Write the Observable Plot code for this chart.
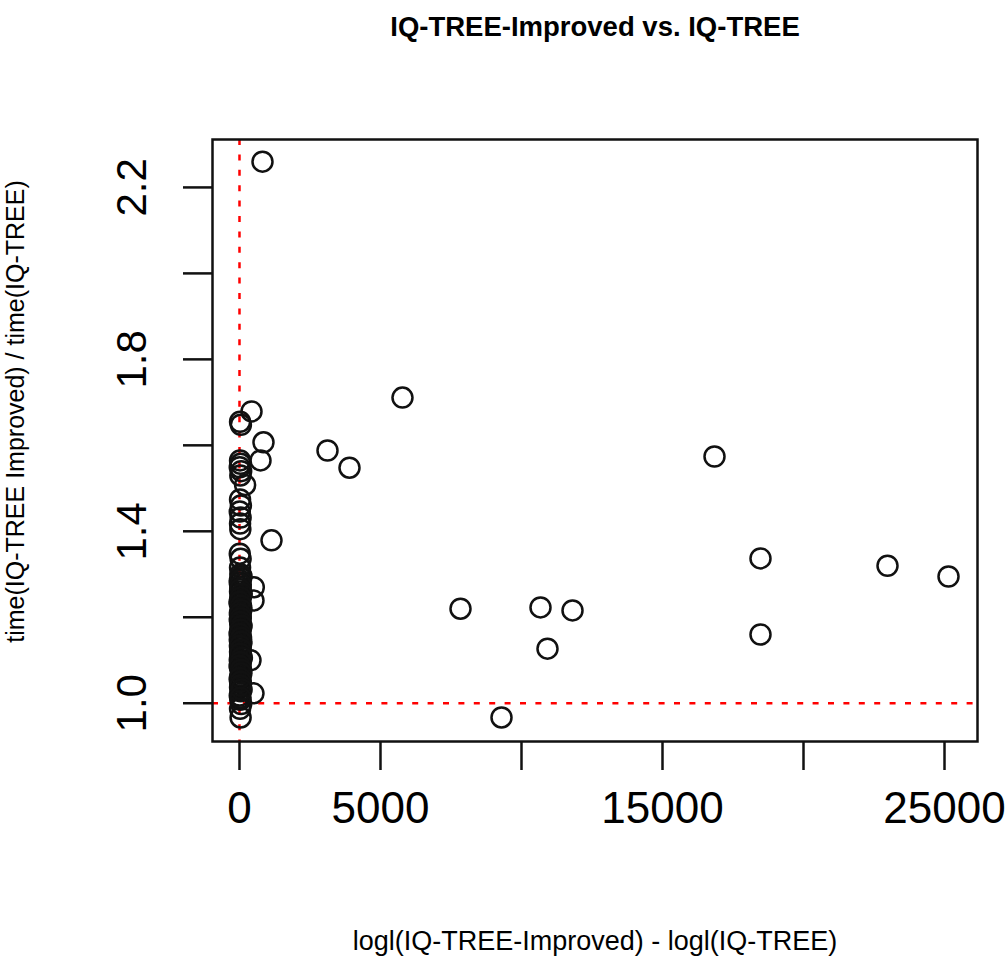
<!DOCTYPE html>
<html><head><meta charset="utf-8">
<script src="https://cdn.jsdelivr.net/npm/d3@7"></script>
<script src="https://cdn.jsdelivr.net/npm/@observablehq/plot@0.6"></script>
<style>body{margin:0;background:#fff} svg{display:block}</style>
</head><body><div id="chart"></div>
<script>
const title = "IQ-TREE-Improved vs. IQ-TREE";
const xLabel = "logl(IQ-TREE-Improved) - logl(IQ-TREE)";
const yLabel = "time(IQ-TREE Improved) / time(IQ-TREE)";
const xTicks = [0, 5000, 10000, 15000, 20000, 25000];
const xTickLabels = [0, 5000, 15000, 25000];
const yTicks = [1.0, 1.2, 1.4, 1.6, 1.8, 2.0, 2.2];
const yTickLabels = [1.0, 1.4, 1.8, 2.2];

// logl difference
const xDiff = [
  816, 5780, 3121, 3901, 16844, 18475, 18475, 22979, 25142, 7837, 10674, 11809, 10922, 9291,
  1135, 426, 851, 745,
  20, 50, 20, 40, 10, 60, 30, 200,
  20, 50, 10, 40, 20, 30,
  10, 40, 20, 30, 60, 10, 40, 507, 20, 50, 496, 30, 10, 60, 20, 40, 10, 30, 50, 20, 40, 10, 60, 30, 20, 50,
  390, 10, 40, 20, 60, 30, 10, 50, 20, 40, 496, 10, 30, 60, 20, 40,
  70, 15, 45, 25, 80, 35, 5, 55, 65, 15, 45, 25, 75, 35, 5, 55, 65, 15, 45, 25, 85, 35, 5, 55, 65, 15, 45, 25, 75, 35
];
// time ratio
const timeRatio = [
  2.260, 1.711, 1.588, 1.548, 1.574, 1.337, 1.160, 1.320, 1.295, 1.220, 1.223, 1.216, 1.127, 0.967,
  1.379, 1.679, 1.607, 1.565,
  1.655, 1.648, 1.565, 1.557, 1.549, 1.540, 1.530, 1.508,
  1.474, 1.460, 1.446, 1.432, 1.418, 1.405,
  1.348, 1.336, 1.316, 1.300, 1.291, 1.281, 1.270, 1.270, 1.260, 1.250, 1.239, 1.241, 1.232, 1.222, 1.212, 1.203, 1.194, 1.185, 1.176, 1.166, 1.157, 1.148, 1.139, 1.130, 1.120, 1.111,
  1.100, 1.101, 1.092, 1.082, 1.073, 1.064, 1.055, 1.046, 1.037, 1.028, 1.023, 1.018, 1.008, 0.998, 0.987, 0.967,
  1.296, 1.286, 1.276, 1.265, 1.255, 1.246, 1.236, 1.227, 1.217, 1.207, 1.198, 1.189, 1.180, 1.171, 1.161, 1.152, 1.143, 1.134, 1.125, 1.115, 1.106, 1.096, 1.087, 1.078, 1.069, 1.059, 1.050, 1.041, 1.032, 1.013
];

const data = xDiff.map((x, i) => ({x, y: timeRatio[i]}));
const font = "'Liberation Sans', Arial, Helvetica, sans-serif";

const chart = Plot.plot({
  width: 1007, height: 958,
  marginTop: 139, marginBottom: 217, marginLeft: 212, marginRight: 30,
  style: {fontFamily: font, background: "white", color: "black"},
  x: {domain: [-957, 26170], label: null},
  y: {domain: [0.911, 2.3115], label: null},
  marks: [
    Plot.ruleY([1], {stroke: "#ff0000", strokeWidth: 2.5, strokeDasharray: "6,9.4"}),
    Plot.ruleX([0], {stroke: "#ff0000", strokeWidth: 2.5, strokeDasharray: "6,9.4"}),
    Plot.dot(data, {x: "x", y: "y", r: 10, stroke: "#111", strokeWidth: 2.5, fill: "none"}),
    Plot.frame({stroke: "#111", strokeWidth: 2.5}),
    Plot.axisX(xTicks, {tickSize: 29, tickFormat: () => "", stroke: "#111", strokeWidth: 2.5, label: null}),
    Plot.axisX(xTickLabels, {tickSize: 0, tickPadding: 50, fontSize: 44, label: null, tickFormat: d => String(d)}),
    Plot.axisY(yTicks, {tickSize: 29, tickFormat: () => "", stroke: "#111", strokeWidth: 2.5, label: null}),
    Plot.axisY(yTickLabels, {tickSize: 0, tickRotate: -90, tickPadding: 67, fontSize: 42, label: null, tickFormat: d => d.toFixed(1)}),
    Plot.text([title], {frameAnchor: "top", dy: -112, fontSize: 27.5, fontWeight: "bold", lineAnchor: "middle", text: d => d}),
    Plot.text([xLabel], {frameAnchor: "bottom", dy: 200, fontSize: 27, lineAnchor: "middle", text: d => d}),
    Plot.text([yLabel], {frameAnchor: "left", textAnchor: "middle", dx: -197, dy: -29, rotate: -90, fontSize: 25, lineAnchor: "middle", text: d => d})
  ]
});
document.getElementById("chart").appendChild(chart);
</script>
</body></html>
